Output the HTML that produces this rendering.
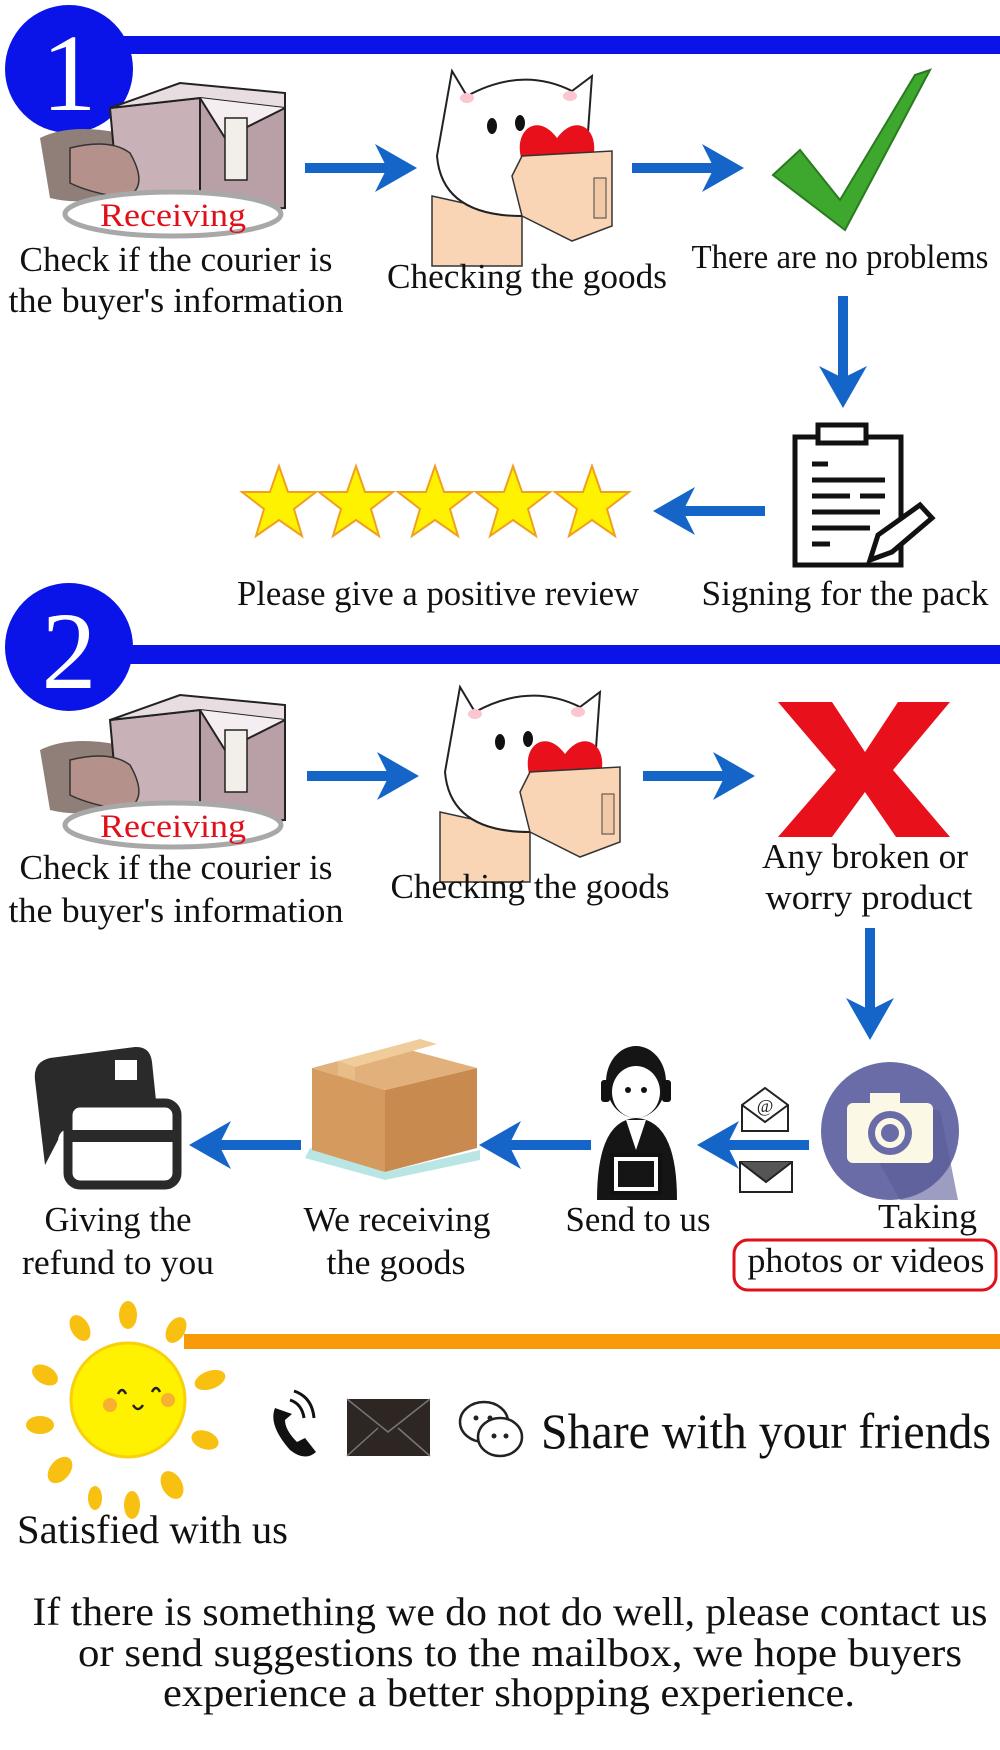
<!DOCTYPE html>
<html><head><meta charset="utf-8"><style>
html,body{margin:0;padding:0;background:#fff;width:1000px;height:1750px;overflow:hidden}
svg{display:block}
text{font-family:"Liberation Serif",serif;fill:#111}
</style></head><body>
<svg width="1000" height="1750" viewBox="0 0 1000 1750" xmlns="http://www.w3.org/2000/svg">
<defs>
<g id="arrR"><rect x="0" y="-5" width="90" height="10" fill="#1565c8"/><path d="M70,-24 L112,0 L70,24 L82,0 Z" fill="#1565c8"/></g>
<g id="arrD"><rect x="-5" y="0" width="10" height="90" fill="#1565c8"/><path d="M-24,70 L0,112 L24,70 L0,82 Z" fill="#1565c8"/></g>
<g id="box">
 <path d="M10,60 Q40,45 90,55 L110,110 Q60,130 20,120 Z" fill="#8f7f78"/>
 <path d="M80,30 L170,20 L170,135 L90,140 Z" fill="#c9b2b7" stroke="#222" stroke-width="2"/>
 <path d="M170,20 L255,30 L255,130 L170,135 Z" fill="#b99fa6" stroke="#222" stroke-width="2"/>
 <path d="M80,30 L150,5 L255,15 L255,30 L170,20 Z" fill="#e8dde0" stroke="#222" stroke-width="2"/>
 <path d="M170,20 L195,60 L255,30" fill="#f4eef0" stroke="#222" stroke-width="2"/>
 <rect x="195" y="40" width="22" height="62" fill="#f2eee8" stroke="#222" stroke-width="1.5"/>
 <path d="M40,70 Q80,60 100,75 Q120,110 95,120 Q60,115 40,105 Z" fill="#b4918a" stroke="#333" stroke-width="1.5"/>
</g>
<g id="cat">
 <path d="M10,130 L100,150 L100,200 L10,200 Z" fill="#f9d5b5" stroke="#333" stroke-width="1.5"/>
 <path d="M30,5 L45,30 Q100,0 150,25 L170,10 L165,80 Q170,140 100,150 Q20,150 15,90 Z" fill="#fff" stroke="#222" stroke-width="2"/>
 <ellipse cx="45" cy="32" rx="7" ry="5" fill="#fbc6cf"/><ellipse cx="148" cy="30" rx="7" ry="5" fill="#fbc6cf"/>
 <ellipse cx="70" cy="60" rx="5" ry="8" fill="#111"/><ellipse cx="98" cy="57" rx="5" ry="8" fill="#111"/>
 <path d="M135,72 C115,45 90,65 100,95 L135,130 L170,95 C180,65 155,45 135,72 Z" fill="#e8101a"/>
 <path d="M90,110 L100,90 L190,85 L190,160 L150,175 L100,150 Z" fill="#f9d5b5" stroke="#333" stroke-width="1.5"/>
 <rect x="172" y="112" width="12" height="40" fill="#f3c9a5" stroke="#444" stroke-width="1"/>
</g>
<g id="star"><path d="M0,-38 L9,-12 L37,-12 L15,5 L23,32 L0,16 L-23,32 L-15,5 L-37,-12 L-9,-12 Z" fill="#fff200" stroke="#f0a020" stroke-width="2"/></g>
</defs>

<!-- Section 1 -->
<rect x="112" y="36" width="888" height="18" fill="#0a14e8"/>
<circle cx="69" cy="69" r="64" fill="#0a14e8"/>
<text x="69" y="110" text-anchor="middle" font-size="110" style="fill:#fff">1</text>

<use href="#box" x="30" y="78"/>
<ellipse cx="173" cy="214" rx="108" ry="22" fill="#fff" stroke="#a8a8a8" stroke-width="5"/>
<text x="173" y="226" text-anchor="middle" font-size="33" textLength="146" lengthAdjust="spacingAndGlyphs" style="fill:#e0101a">Receiving</text>
<text x="176" y="271" text-anchor="middle" font-size="35" textLength="313" lengthAdjust="spacingAndGlyphs">Check if the courier is</text>
<text x="176" y="312" text-anchor="middle" font-size="35" textLength="335" lengthAdjust="spacingAndGlyphs">the buyer's information</text>

<use href="#arrR" x="305" y="168"/>
<use href="#cat" x="422" y="66"/>
<text x="527" y="288" text-anchor="middle" font-size="35" textLength="280" lengthAdjust="spacingAndGlyphs">Checking the goods</text>
<use href="#arrR" x="632" y="168"/>

<path d="M773,175 L800,150 L840,200 L915,75 L930,70 L845,230 Z" fill="#3ea82e" stroke="#2a7a20" stroke-width="2"/>
<text x="840" y="268" text-anchor="middle" font-size="34" textLength="297" lengthAdjust="spacingAndGlyphs">There are no problems</text>

<use href="#arrD" x="843" y="296"/>

<g fill="none" stroke="#111" stroke-width="5">
 <rect x="795" y="437" width="106" height="128"/>
 <rect x="818" y="425" width="48" height="18" fill="#fff"/>
 <line x1="812" y1="464" x2="828" y2="464"/><line x1="812" y1="480" x2="885" y2="480"/>
 <line x1="812" y1="496" x2="850" y2="496"/><line x1="860" y1="496" x2="885" y2="496"/>
 <line x1="812" y1="512" x2="880" y2="512"/><line x1="812" y1="528" x2="870" y2="528"/>
 <line x1="812" y1="544" x2="830" y2="544"/>
 <path d="M870,560 L878,535 L920,505 L932,518 L892,552 Z" fill="#fff"/>
</g>

<use href="#star" x="279" y="504"/><use href="#star" x="356" y="504"/><use href="#star" x="435" y="504"/><use href="#star" x="513" y="504"/><use href="#star" x="592" y="504"/>
<g transform="translate(765,511) scale(-1,1)"><use href="#arrR"/></g>

<text x="438" y="605" text-anchor="middle" font-size="35" textLength="402" lengthAdjust="spacingAndGlyphs">Please give a positive review</text>
<text x="845" y="605" text-anchor="middle" font-size="35" textLength="287" lengthAdjust="spacingAndGlyphs">Signing for the pack</text>

<!-- Section 2 -->
<rect x="112" y="645" width="888" height="19" fill="#0a14e8"/>
<circle cx="69" cy="647" r="64" fill="#0a14e8"/>
<text x="69" y="688" text-anchor="middle" font-size="110" style="fill:#fff">2</text>

<use href="#box" x="30" y="690"/>
<ellipse cx="173" cy="825" rx="108" ry="22" fill="#fff" stroke="#a8a8a8" stroke-width="5"/>
<text x="173" y="837" text-anchor="middle" font-size="33" textLength="146" lengthAdjust="spacingAndGlyphs" style="fill:#e0101a">Receiving</text>
<text x="176" y="879" text-anchor="middle" font-size="35" textLength="313" lengthAdjust="spacingAndGlyphs">Check if the courier is</text>
<text x="176" y="922" text-anchor="middle" font-size="35" textLength="335" lengthAdjust="spacingAndGlyphs">the buyer's information</text>

<use href="#arrR" x="307" y="776"/>
<use href="#cat" x="430" y="682"/>
<text x="530" y="898" text-anchor="middle" font-size="35" textLength="279" lengthAdjust="spacingAndGlyphs">Checking the goods</text>
<use href="#arrR" x="643" y="776"/>

<path d="M778,702 L832,702 L865,752 L898,702 L950,702 L893,770 L950,837 L896,837 L865,792 L832,837 L778,837 L836,770 Z" fill="#e8101a"/>
<text x="865" y="868" text-anchor="middle" font-size="35" textLength="206" lengthAdjust="spacingAndGlyphs">Any broken or</text>
<text x="869" y="909" text-anchor="middle" font-size="35" textLength="207" lengthAdjust="spacingAndGlyphs">worry product</text>

<use href="#arrD" x="870" y="928"/>

<!-- row 4 -->
<circle cx="890" cy="1131" r="69" fill="#6a6ca8"/>
<path d="M850,1110 L940,1110 L958,1200 L900,1200 Z" fill="#5a5c96" opacity="0.6"/>
<rect x="847" y="1103" width="86" height="60" rx="6" fill="#fbf8e6"/>
<rect x="870" y="1093" width="30" height="14" fill="#fbf8e6"/>
<circle cx="890" cy="1133" r="22" fill="#6a6ca8"/><circle cx="890" cy="1133" r="15" fill="#fbf8e6"/><circle cx="890" cy="1133" r="9" fill="#6a6ca8"/>

<g fill="#fff" stroke="#222" stroke-width="2">
 <path d="M742,1105 L765,1088 L788,1105 L788,1131 L742,1131 Z"/>
 <path d="M742,1105 L765,1122 L788,1105" fill="none"/>
 <text x="765" y="1112" text-anchor="middle" font-size="18" style="fill:#222;stroke:none">@</text>
 <rect x="740" y="1162" width="52" height="30"/>
 <path d="M740,1162 L766,1182 L792,1162" fill="#555"/>
</g>
<g transform="translate(809,1145) scale(-1,1)"><use href="#arrR"/></g>

<g>
 <path d="M597,1200 Q597,1120 636,1118 Q677,1120 677,1200 Z" fill="#151515"/>
 <path d="M626,1120 L636,1150 L646,1120 Z" fill="#fff"/>
 <ellipse cx="636" cy="1082" rx="30" ry="36" fill="#151515"/>
 <ellipse cx="636" cy="1092" rx="24" ry="26" fill="#fff"/>
 <circle cx="628" cy="1090" r="3" fill="#111"/><circle cx="644" cy="1090" r="3" fill="#111"/>
 <rect x="601" y="1080" width="9" height="22" rx="3" fill="#111"/><rect x="662" y="1080" width="9" height="22" rx="3" fill="#111"/>
 <rect x="612" y="1155" width="48" height="38" fill="#fff" stroke="#111" stroke-width="4"/>
 <rect x="618" y="1161" width="36" height="26" fill="#151515"/>
</g>
<g transform="translate(591,1145) scale(-1,1)"><use href="#arrR"/></g>

<g>
 <path d="M310,1148 L385,1172 L480,1150 L480,1160 L385,1180 L305,1158 Z" fill="#b9e6e4"/>
 <path d="M312,1068 L385,1090 L385,1172 L312,1150 Z" fill="#d59a5e"/>
 <path d="M385,1090 L477,1068 L477,1148 L385,1172 Z" fill="#c98a50"/>
 <path d="M312,1068 L395,1046 L477,1068 L385,1090 Z" fill="#e2b07a"/>
 <path d="M338,1061 L420,1039 L437,1044 L355,1067 Z" fill="#f0cc9a"/>
 <path d="M338,1061 L355,1067 L355,1080 L338,1075 Z" fill="#e8be88"/>
</g>
<g transform="translate(301,1145) scale(-1,1)"><use href="#arrR"/></g>

<g>
 <path d="M35,1080 Q33,1062 50,1058 L135,1047 Q150,1046 152,1062 L158,1120 L80,1130 Q60,1125 58,1140 L45,1165 Z" fill="#2a2a2a"/>
 <rect x="115" y="1060" width="22" height="20" fill="#fff"/>
 <rect x="68" y="1103" width="109" height="82" rx="12" fill="#fff" stroke="#2a2a2a" stroke-width="9"/>
 <rect x="68" y="1130" width="109" height="12" fill="#2a2a2a"/>
</g>

<text x="118" y="1231" text-anchor="middle" font-size="35" textLength="147" lengthAdjust="spacingAndGlyphs">Giving the</text>
<text x="118" y="1274" text-anchor="middle" font-size="35" textLength="192" lengthAdjust="spacingAndGlyphs">refund to you</text>
<text x="397" y="1231" text-anchor="middle" font-size="35" textLength="187" lengthAdjust="spacingAndGlyphs">We receiving</text>
<text x="396" y="1274" text-anchor="middle" font-size="35" textLength="139" lengthAdjust="spacingAndGlyphs">the goods</text>
<text x="638" y="1231" text-anchor="middle" font-size="35" textLength="145" lengthAdjust="spacingAndGlyphs">Send to us</text>
<text x="977" y="1228" text-anchor="end" font-size="35" textLength="99" lengthAdjust="spacingAndGlyphs">Taking</text>
<rect x="734" y="1240" width="262" height="50" rx="14" fill="none" stroke="#e0101a" stroke-width="3"/>
<text x="866" y="1272" text-anchor="middle" font-size="35" textLength="237" lengthAdjust="spacingAndGlyphs">photos or videos</text>

<!-- bottom -->
<rect x="184" y="1334" width="816" height="15" fill="#f99a08"/>
<g fill="#f8c010">
 <ellipse cx="128" cy="1315" rx="9" ry="14"/><ellipse cx="80" cy="1328" rx="9" ry="14" transform="rotate(-30 80 1328)"/>
 <ellipse cx="176" cy="1330" rx="9" ry="14" transform="rotate(30 176 1330)"/>
 <ellipse cx="45" cy="1375" rx="9" ry="14" transform="rotate(-60 45 1375)"/>
 <ellipse cx="210" cy="1380" rx="9" ry="16" transform="rotate(70 210 1380)"/>
 <ellipse cx="40" cy="1425" rx="9" ry="14" transform="rotate(90 40 1425)"/>
 <ellipse cx="205" cy="1440" rx="9" ry="14" transform="rotate(110 205 1440)"/>
 <ellipse cx="60" cy="1470" rx="10" ry="15" transform="rotate(40 60 1470)"/>
 <ellipse cx="172" cy="1485" rx="10" ry="15" transform="rotate(-30 172 1485)"/>
 <ellipse cx="95" cy="1498" rx="7" ry="12"/><ellipse cx="132" cy="1505" rx="8" ry="14"/>
</g>
<circle cx="128" cy="1400" r="57" fill="#fff200" stroke="#f8d010" stroke-width="3"/>
<circle cx="110" cy="1405" r="7" fill="#f8b030"/><circle cx="168" cy="1400" r="7" fill="#f8b030"/>
<path d="M118,1394 q4,-8 8,0 M152,1392 q4,-8 8,0 M133,1405 q5,8 10,0" fill="none" stroke="#222" stroke-width="2.5"/>

<path d="M275,1408 Q268,1425 290,1450 Q305,1462 316,1452 L305,1438 L297,1442 Q285,1430 285,1420 L292,1414 Z" fill="#111"/>
<path d="M290,1400 q12,4 14,18 M294,1391 q18,6 20,27" fill="none" stroke="#111" stroke-width="3"/>
<rect x="347" y="1399" width="83" height="57" fill="#2e2622"/>
<path d="M347,1399 L388,1432 L430,1399 M347,1456 L378,1428 M430,1456 L398,1428" fill="none" stroke="#777" stroke-width="1.5"/>
<g fill="#fff" stroke="#222" stroke-width="2.5">
 <ellipse cx="484" cy="1422" rx="24" ry="20"/>
 <ellipse cx="500" cy="1437" rx="22" ry="19"/>
</g>
<circle cx="476" cy="1418" r="2.5" fill="#222"/><circle cx="490" cy="1418" r="2.5" fill="#222"/>
<circle cx="494" cy="1436" r="2.5" fill="#222"/><circle cx="506" cy="1436" r="2.5" fill="#222"/>

<text x="541" y="1448" font-size="50" textLength="450" lengthAdjust="spacingAndGlyphs">Share with your friends</text>
<text x="17" y="1543" font-size="40" textLength="271" lengthAdjust="spacingAndGlyphs">Satisfied with us</text>

<text x="510" y="1625" text-anchor="middle" font-size="40" textLength="955" lengthAdjust="spacingAndGlyphs">If there is something we do not do well, please contact us</text>
<text x="520" y="1666" text-anchor="middle" font-size="40" textLength="884" lengthAdjust="spacingAndGlyphs">or send suggestions to the mailbox, we hope buyers</text>
<text x="509" y="1706" text-anchor="middle" font-size="40" textLength="692" lengthAdjust="spacingAndGlyphs">experience a better shopping experience.</text>
</svg>
</body></html>
